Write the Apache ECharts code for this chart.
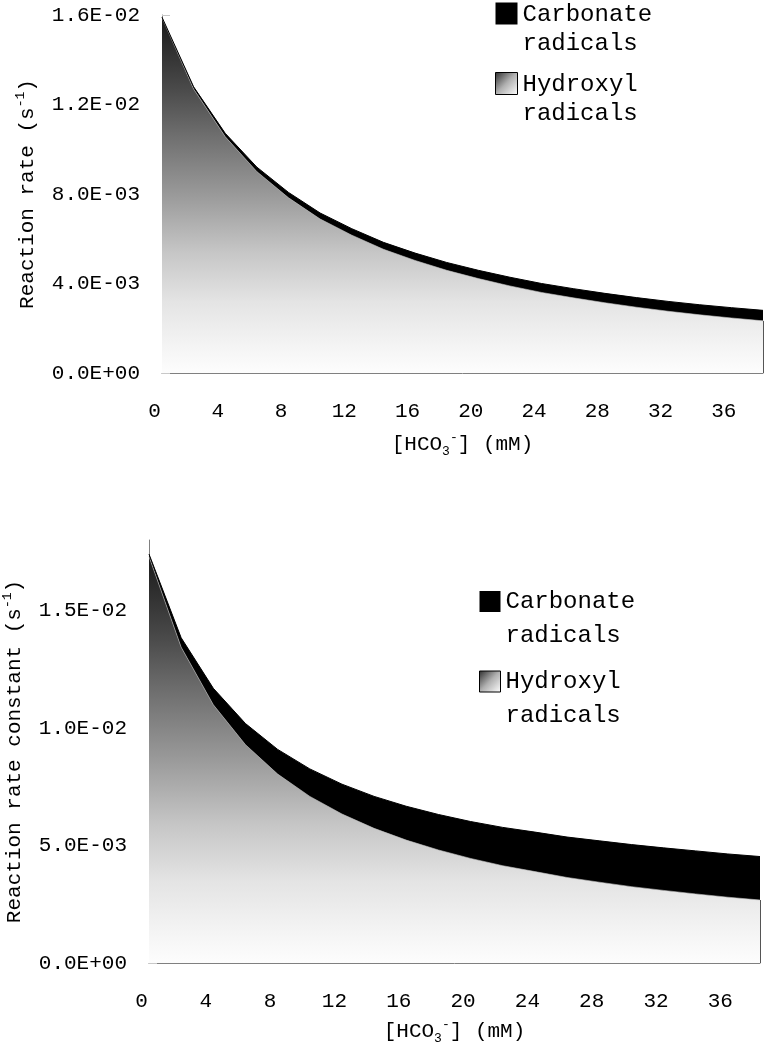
<!DOCTYPE html>
<html>
<head>
<meta charset="utf-8">
<title>Reaction rate vs bicarbonate</title>
<script src="https://cdn.jsdelivr.net/npm/echarts@6.0.0/dist/echarts.min.js"></script>
<style>
  html, body { margin: 0; padding: 0; background: #fff; }
  #chart { width: 764px; height: 1050px; }
</style>
</head>
<body>
<div id="chart"></div>
<script>
// [HCO3-] in mM, one point every 2 mM
const bicarbonate = ['0', '2', '4', '6', '8', '10', '12', '14', '16', '18',
  '20', '22', '24', '26', '28', '30', '32', '34', '36', '38'];

// upper panel, reaction rate (s^-1), read in units of 1e-3
const rateHydroxyl = [15.88, 12.69, 10.56, 9.00, 7.83, 6.88, 6.16, 5.53, 5.03, 4.59,
  4.22, 3.89, 3.60, 3.36, 3.14, 2.94, 2.76, 2.60, 2.46, 2.33];
const rateCarbonate = [0.02, 0.10, 0.15, 0.20, 0.24, 0.27, 0.29, 0.31, 0.33, 0.35,
  0.37, 0.39, 0.40, 0.41, 0.42, 0.43, 0.44, 0.45, 0.46, 0.47];

// lower panel, reaction rate constant (s^-1), units of 1e-3
const constHydroxyl = [17.30, 13.44, 10.99, 9.29, 8.04, 7.09, 6.34, 5.73, 5.23, 4.81,
  4.45, 4.14, 3.89, 3.64, 3.44, 3.25, 3.09, 2.94, 2.80, 2.68];
const constCarbonate = [0.10, 0.40, 0.70, 0.90, 1.05, 1.17, 1.27, 1.36, 1.44, 1.51,
  1.57, 1.63, 1.68, 1.72, 1.76, 1.79, 1.81, 1.83, 1.84, 1.85];

const rateAxis = { min: 0, max: 0.016, interval: 0.004 };
const constAxis = { min: 0, max: 0.018, interval: 0.005 };

const names = ['Carbonate\nradicals', 'Hydroxyl\nradicals'];

const FONT = "'Liberation Mono', monospace";

const chart = echarts.init(document.getElementById('chart'));

// 1.6E-02 style labels
function sci(v) {
  if (v === 0) return '0.0E+00';
  const parts = v.toExponential(1).split('e');
  const e = parseInt(parts[1], 10);
  return parts[0] + 'E' + (e < 0 ? '-' : '+') + String(Math.abs(e)).padStart(2, '0');
}

function areaGradient() {
  return new echarts.graphic.LinearGradient(0, 0, 0, 1, [
    { offset: 0, color: '#1a1a1a' },
    { offset: 0.2, color: '#4a4a4a' },
    { offset: 0.33, color: '#6e6e6e' },
    { offset: 0.5, color: '#9a9a9a' },
    { offset: 0.66, color: '#c6c6c6' },
    { offset: 0.8, color: '#e4e4e4' },
    { offset: 0.94, color: '#f6f6f6' },
    { offset: 1, color: '#fdfdfd' }
  ]);
}

const richName = {
  sup: { fontFamily: FONT, fontSize: 13, color: '#000', verticalAlign: 'top', lineHeight: 13 },
  sub: { fontFamily: FONT, fontSize: 13, color: '#000', verticalAlign: 'bottom', lineHeight: 13 }
};
const nameStyle = { fontFamily: FONT, fontSize: 21, color: '#000', lineHeight: 27, rich: richName };

function xAxis(gridIndex, tickInterval, gap) {
  return {
    type: 'category',
    gridIndex: gridIndex,
    data: bicarbonate,
    boundaryGap: false,
    axisLine: { lineStyle: { color: '#808080', width: 1 } },
    axisTick: { inside: true, length: 8, interval: tickInterval, lineStyle: { color: '#c8c8c8' } },
    axisLabel: { interval: 1, margin: 28, padding: [0, 15, 0, 0], color: '#000', fontFamily: FONT, fontSize: 21 },
    splitLine: { show: false },
    name: '[HCO{sub|3}{sup|-}] (mM)',
    nameLocation: 'middle',
    nameGap: gap,
    nameTextStyle: nameStyle
  };
}

function yAxis(gridIndex, range, name, gap, showMax) {
  return {
    type: 'value',
    gridIndex: gridIndex,
    min: range.min,
    max: range.max,
    interval: range.interval,
    axisLine: { show: true, lineStyle: { color: '#808080', width: 1 } },
    axisTick: { show: true, inside: true, length: 8, lineStyle: { color: '#c8c8c8' } },
    splitLine: { show: false },
    axisLabel: { formatter: sci, margin: 22, showMaxLabel: showMax, color: '#000', fontFamily: FONT, fontSize: 21 },
    name: name,
    nameLocation: 'middle',
    nameGap: gap,
    nameTextStyle: nameStyle
  };
}

function legend(left, top, iconW, iconH, lineH, gap) {
  // square swatch at the top of a taller box so it sits beside the first text line
  const icon = 'path://M0,0H' + iconW + 'V' + iconW + 'H0Z M0,' + iconH + 'L0,' + iconH;
  return {
    left: left,
    top: top,
    orient: 'vertical',
    padding: 0,
    itemGap: gap,
    itemWidth: iconW,
    itemHeight: iconH,
    selectedMode: false,
    textStyle: { fontFamily: FONT, fontSize: 24, lineHeight: lineH, color: '#000' },
    data: [
      { name: names[0], icon: icon, itemStyle: { color: '#000', borderWidth: 0 } },
      {
        name: names[1], icon: icon,
        itemStyle: {
          color: new echarts.graphic.LinearGradient(0, 0, 1, iconW / iconH, [
            { offset: 0, color: '#2a2a2a' },
            { offset: 0.5, color: '#b0b0b0' },
            { offset: 1, color: '#ffffff' }
          ]),
          borderColor: '#000',
          borderWidth: 1
        }
      }
    ]
  };
}

function pair(gridIndex, stack, hydroxyl, carbonate) {
  const scale = (v) => v / 1000;
  const last = bicarbonate[bicarbonate.length - 1];
  return [
    {
      name: names[1],
      type: 'line',
      xAxisIndex: gridIndex,
      yAxisIndex: gridIndex,
      stack: stack,
      data: hydroxyl.map(scale),
      symbol: 'none',
      lineStyle: { width: 0.6, color: '#c0c0c0' },
      itemStyle: { color: '#888' },
      areaStyle: { color: areaGradient(), opacity: 1 },
      markLine: {
        silent: true,
        symbol: 'none',
        label: { show: false },
        lineStyle: { color: '#555', width: 1, type: 'solid' },
        data: [[{ coord: [last, 0] }, { coord: [last, scale(hydroxyl[hydroxyl.length - 1])] }]]
      }
    },
    {
      name: names[0],
      type: 'line',
      xAxisIndex: gridIndex,
      yAxisIndex: gridIndex,
      stack: stack,
      data: carbonate.map(scale),
      symbol: 'none',
      lineStyle: { width: 1, color: '#000' },
      itemStyle: { color: '#000' },
      areaStyle: { color: '#000', opacity: 1 }
    }
  ];
}

chart.setOption({
  animation: false,
  backgroundColor: '#fff',
  grid: [
    { left: 162, right: 1, top: 15, bottom: 677, outerBoundsMode: 'none' },
    { left: 149, right: 4, top: 540, bottom: 87, outerBoundsMode: 'none' }
  ],
  legend: [
    legend(495, 0, 22, 53, 29, 12),
    legend(479, 585, 21, 56, 34, 12)
  ],
  xAxis: [xAxis(0, 0, 58), xAxis(1, 1, 55)],
  yAxis: [
    yAxis(0, rateAxis, 'Reaction rate (s{sup|-1})', 118, true),
    yAxis(1, constAxis, 'Reaction rate constant (s{sup|-1})', 105, false)
  ],
  series: pair(0, 'rate', rateHydroxyl, rateCarbonate)
    .concat(pair(1, 'const', constHydroxyl, constCarbonate))
});
</script>
</body>
</html>
